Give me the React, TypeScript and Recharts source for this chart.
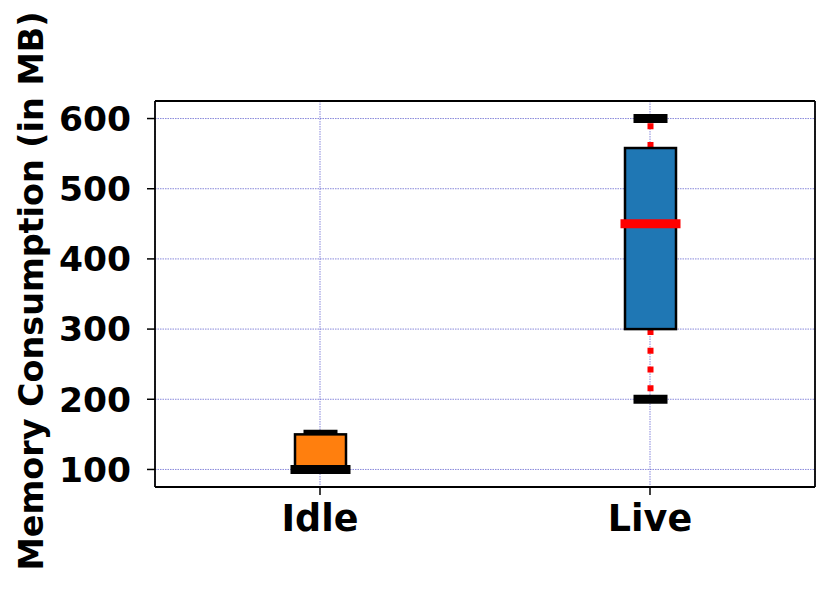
import React from "react";
import { ComposedChart, Bar, XAxis, YAxis, CartesianGrid } from "recharts";

const categories = ["Idle", "Live"];
const mins = [100, 200];
const q1s = [100, 300];
const medians = [100, 450];
const q3s = [150, 558];
const maxs = [150, 600];
const boxColors = ["#ff7f0e", "#1f77b4"];
const medianColors = ["#000000", "#ff0000"];
const yTicks = [100, 200, 300, 400, 500, 600];

const data = categories.map((name, i) => ({
  name,
  range: [mins[i], maxs[i]],
  min: mins[i],
  q1: q1s[i],
  median: medians[i],
  q3: q3s[i],
  max: maxs[i],
  fill: boxColors[i],
  medianColor: medianColors[i],
}));

const FONT = "'DejaVu Sans', sans-serif";

function BoxShape(props: any) {
  const { x, y, width, height, payload } = props;
  const top = Math.min(y, y + height);
  const bottom = Math.max(y, y + height);
  const { min, max, q1, q3, median, fill, medianColor } = payload;
  const span = max - min || 1;
  const toY = (v: number) => bottom - ((v - min) / span) * (bottom - top);
  const cx = x + width / 2;
  const capW = 34;
  const medW = 60;
  return (
    <g>
      <line x1={cx} x2={cx} y1={toY(q3)} y2={toY(max)} stroke="#ff0000" strokeWidth={6} strokeDasharray="6 12.7" />
      <line x1={cx} x2={cx} y1={toY(q1)} y2={toY(min)} stroke="#ff0000" strokeWidth={6} strokeDasharray="6 12.7" />
      <line x1={cx - capW / 2} x2={cx + capW / 2} y1={toY(max)} y2={toY(max)} stroke="#000" strokeWidth={9} />
      <line x1={cx - capW / 2} x2={cx + capW / 2} y1={toY(min)} y2={toY(min)} stroke="#000" strokeWidth={9} />
      <rect x={x} y={toY(q3)} width={width} height={toY(q1) - toY(q3)} fill={fill} stroke="#000" strokeWidth={2.5} />
      <line x1={cx - medW / 2} x2={cx + medW / 2} y1={toY(median)} y2={toY(median)} stroke={medianColor} strokeWidth={9} />
    </g>
  );
}

const YLabel = () => (
  <text
    x={31}
    y={291}
    transform="rotate(-90, 31, 291)"
    textAnchor="middle"
    dominantBaseline="central"
    fontFamily={FONT}
    fontWeight="bold"
    fontSize={33.4}
    fill="#000"
  >
    Memory Consumption (in MB)
  </text>
);

export default function App() {
  return (
    <div style={{ position: "absolute", left: 0, top: 0, width: 832, height: 589, background: "#fff" }}>
      <ComposedChart width={832} height={589} data={data} margin={{ top: 100, right: 16, bottom: 42, left: 55 }}>
        <CartesianGrid stroke="#5555cc" strokeWidth={0.7} strokeDasharray="1.5 1" />
        <XAxis
          dataKey="name"
          height={60}
          axisLine={{ stroke: "#000", strokeWidth: 1.8 }}
          tickLine={{ stroke: "#000", strokeWidth: 1.5 }}
          tickSize={8}
          tickMargin={10}
          tick={{ fill: "#000", fontFamily: FONT, fontWeight: "bold", fontSize: 36.5 }}
        />
        <XAxis xAxisId="top" dataKey="name" orientation="top" height={1} tick={false} tickLine={false} axisLine={{ stroke: "#000", strokeWidth: 1.8 }} />
        <YAxis
          width={100}
          domain={[75, 625]}
          ticks={yTicks}
          type="number"
          allowDataOverflow
          axisLine={{ stroke: "#000", strokeWidth: 1.8 }}
          tickLine={{ stroke: "#000", strokeWidth: 1.5 }}
          tickSize={8}
          tickMargin={16}
          tick={{ fill: "#000", fontFamily: FONT, fontWeight: "bold", fontSize: 34.5 }}
          label={<YLabel />}
        />
        <YAxis yAxisId="right" orientation="right" width={1} domain={[75, 625]} type="number" tick={false} tickLine={false} axisLine={{ stroke: "#000", strokeWidth: 1.8 }} />
        <Bar dataKey="range" barSize={51} shape={<BoxShape />} isAnimationActive={false} />
      </ComposedChart>
    </div>
  );
}
